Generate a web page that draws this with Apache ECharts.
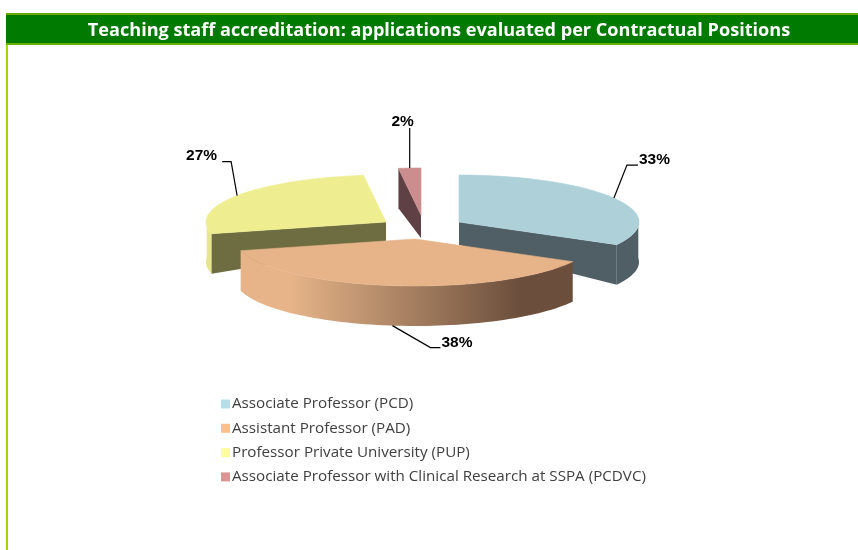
<!DOCTYPE html>
<html>
<head>
<meta charset="utf-8">
<style>
  html, body { margin: 0; padding: 0; background: #fff; }
  #main { width: 858px; height: 550px; }
</style>
<script src="https://cdn.jsdelivr.net/npm/echarts@6/dist/echarts.min.js"></script>
</head>
<body>
<div id="main"></div>
<script>
var titleText = 'Teaching staff accreditation: applications evaluated per Contractual Positions';
var categories = [
  'Associate Professor (PCD)',
  'Assistant Professor (PAD)',
  'Professor Private University (PUP)',
  'Associate Professor with Clinical Research at SSPA (PCDVC)'
];
var shares = [33, 38, 27, 2];

// slice colours: legend, top face, cut face, outer wall
var legendColors = ['#b7dde8', '#fac090', '#ffff99', '#d99694'];
var topColors = ['#aed0d9', '#e7b48a', '#eeee90', '#cb8d8d'];
var cutColors = ['#4f5f65', '#6b4f3c', '#6e6c41', '#5f4044'];
var wallColors = ['#4f5f65', null, '#e6e68c', '#5f4044'];

// exploded centre of each slice and where its label leader goes
var centers = [[459, 222], [415, 239], [386, 222], [421, 215]];
var leaders = [
  { elbow: [13, -33], end: [24, -33], text: [25, -38], align: 'left' },
  { elbow: [38, 22], end: [48, 22], text: [49, 17], align: 'left' },
  { elbow: [-6, -34], end: [-15, -34], text: [-20, -40], align: 'right' },
  { elbow: [0, -40], end: [0, -40], text: [-7, -46], align: 'center' }
];
var zOrder = [3, 4, 2, 1];

var rx = 180, ry = 47;
var rimDepth = 40, apexDepth = 23;

function rimPoint(c, deg, depth) {
  var a = deg * Math.PI / 180;
  return [c[0] + rx * Math.sin(a), c[1] - ry * Math.cos(a) + depth];
}

function arcPoints(c, from, to, depth) {
  var pts = [];
  var n = Math.max(2, Math.ceil(Math.abs(to - from) / 2));
  for (var i = 0; i <= n; i++) {
    pts.push(rimPoint(c, from + (to - from) * i / n, depth));
  }
  return pts;
}

function wallFace(c, from, to, fill) {
  var pts = arcPoints(c, from, to, 0).concat(arcPoints(c, to, from, rimDepth));
  return { type: 'polygon', shape: { points: pts }, style: { fill: fill } };
}

function cutFace(c, deg, fill) {
  var pts = [
    c,
    rimPoint(c, deg, 0),
    rimPoint(c, deg, rimDepth),
    [c[0], c[1] + apexDepth]
  ];
  return { type: 'polygon', shape: { points: pts }, style: { fill: fill } };
}

function makeRenderItem(idx) {
  return function (params, api) {
    var value = api.value(0);
    var total = shares.reduce(function (a, b) { return a + b; }, 0);
    var before = 0;
    for (var i = 0; i < idx; i++) before += shares[i];
    var start = before / total * 360;
    var end = start + value / total * 360;
    var mid = (start + end) / 2;
    var c = centers[idx];
    var children = [];

    // sides first, top face over them
    if (idx === 0) {
      children.push(cutFace(c, end, cutColors[0]));
      children.push(wallFace(c, 85, end, wallColors[0]));
    } else if (idx === 1) {
      children.push(wallFace(c, start, end, {
        type: 'linear', x: 0, y: 0, x2: 1, y2: 0,
        colorStops: [
          { offset: 0, color: '#e6b488' },
          { offset: 0.15, color: '#e6b488' },
          { offset: 0.84, color: '#6b4f3c' },
          { offset: 1, color: '#6b4f3c' }
        ]
      }));
    } else if (idx === 2) {
      children.push(wallFace(c, start, 275, wallColors[2]));
      children.push(cutFace(c, start, cutColors[2]));
    } else {
      children.push(cutFace(c, start, cutColors[3]));
    }

    children.push({
      type: 'polygon',
      shape: { points: [c].concat(arcPoints(c, start, end, 0)) },
      style: { fill: topColors[idx], stroke: topColors[idx], lineWidth: 0.6 }
    });

    // leader and percent label
    var anchor = rimPoint(c, mid, idx === 1 ? rimDepth : 0);
    var l = leaders[idx];
    children.push({
      type: 'polyline',
      shape: {
        points: [
          anchor,
          [anchor[0] + l.elbow[0], anchor[1] + l.elbow[1]],
          [anchor[0] + l.end[0], anchor[1] + l.end[1]]
        ]
      },
      style: { stroke: '#000', lineWidth: 1.2, fill: null }
    });
    children.push({
      type: 'text',
      style: {
        x: anchor[0] + l.text[0],
        y: anchor[1] + l.text[1],
        text: Math.round(value / total * 100) + '%',
        align: l.align,
        verticalAlign: 'middle',
        font: 'bold 15.5px "Liberation Sans", Arial, sans-serif',
        fill: '#000'
      }
    });
    return { type: 'group', children: children };
  };
}

var series = categories.map(function (name, i) {
  return {
    type: 'custom',
    name: name,
    coordinateSystem: 'none',
    z: zOrder[i] + 2,
    silent: true,
    clip: false,
    itemStyle: { color: legendColors[i] },
    renderItem: makeRenderItem(i),
    data: [[shares[i]]]
  };
});

var myChart = echarts.init(document.getElementById('main'), null, { renderer: 'canvas' });
myChart.setOption({
  animation: false,
  backgroundColor: '#fff',
  title: {
    text: titleText,
    left: 434,
    top: 17,
    textAlign: 'center',
    textStyle: {
      color: '#fff',
      fontFamily: 'Open Sans',
      fontWeight: 'bold',
      fontSize: 18.1
    }
  },
  legend: {
    data: categories,
    orient: 'vertical',
    left: 221,
    top: 396,
    padding: 0,
    icon: 'rect',
    itemWidth: 9,
    itemHeight: 9,
    itemGap: 8.3,
    selectedMode: false,
    textStyle: {
      color: '#404040',
      fontFamily: 'Open Sans',
      fontSize: 15.2,
      lineHeight: 16,
      padding: [0, 0, 0, -3]
    }
  },
  graphic: [
    { type: 'rect', shape: { x: 6, y: 13, width: 852, height: 32 }, style: { fill: '#007a00' }, z: 0 },
    { type: 'rect', shape: { x: 6, y: 13, width: 852, height: 2 }, style: { fill: '#6aaa00' }, z: 0 },
    { type: 'rect', shape: { x: 6, y: 43, width: 852, height: 2 }, style: { fill: '#6ab000' }, z: 0 },
    { type: 'rect', shape: { x: 6, y: 45, width: 2, height: 505 }, style: { fill: '#a6d600' }, z: 0 }
  ],
  series: series
});
</script>
</body>
</html>
